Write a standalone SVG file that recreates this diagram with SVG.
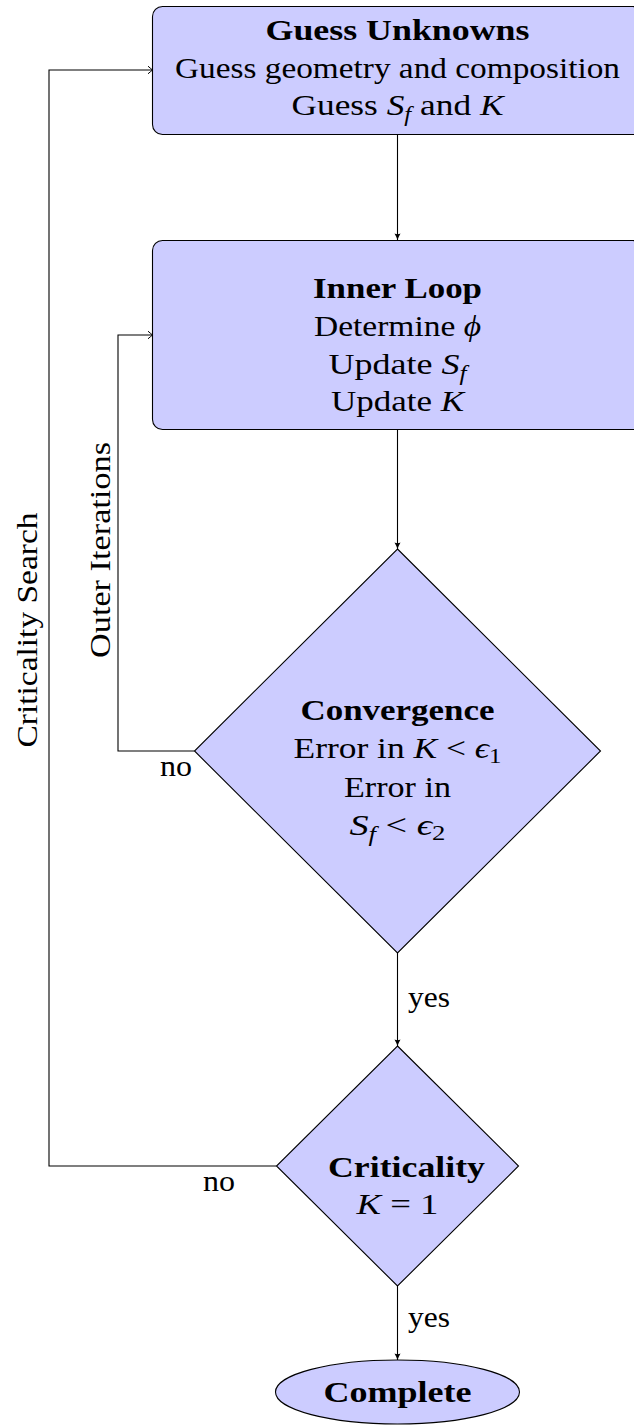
<svg xmlns="http://www.w3.org/2000/svg" width="634" height="1426" viewBox="0 0 634 1426">
<style>
.node{fill:#ccccff;stroke:#000;stroke-width:1.1}
.t{font-family:"Liberation Serif","Times New Roman",serif;font-size:30px;fill:#000;text-anchor:middle}
.l{font-family:"Liberation Serif","Times New Roman",serif;font-size:30px;fill:#000}
.b{font-weight:bold}
.m{font-style:italic}
.s{font-size:21px}
.c{fill:none;stroke:#000;stroke-width:1.1}
</style>
<defs>
<marker id="tip" markerUnits="userSpaceOnUse" viewBox="-7 -4 8 8" markerWidth="8" markerHeight="8" refX="0" refY="0" orient="auto">
<path d="M-6.5,-3 Q-3,-1 0,0 Q-3,1 -6.5,3 Q-5,0 -6.5,-3 Z" fill="#000"/>
</marker>
<marker id="to" markerUnits="userSpaceOnUse" viewBox="-7 -5 8 10" markerWidth="8" markerHeight="10" refX="0" refY="0" orient="auto">
<path d="M-4.5,-3.8 Q-1.2,-1 0,0 Q-1.2,1 -4.5,3.8" fill="none" stroke="#000" stroke-width="1"/>
</marker>
</defs>

<g id="connectors">
<path class="c" d="M397.5,134.5 V240" marker-end="url(#tip)"/>
<path class="c" d="M397.5,429.5 V549" marker-end="url(#tip)"/>
<path class="c" d="M397.5,953 V1046" marker-end="url(#tip)"/>
<path class="c" d="M397.5,1286 V1360" marker-end="url(#tip)"/>
<path class="c" d="M194.5,751 H118 V335 H152.5" marker-end="url(#to)"/>
<path class="c" d="M276.5,1166 H49 V70 H152.5" marker-end="url(#to)"/>
<text class="l" x="160" y="776" textLength="32" lengthAdjust="spacingAndGlyphs">no</text>
<text class="l" x="203" y="1191" textLength="32" lengthAdjust="spacingAndGlyphs">no</text>
<text class="l" x="408" y="1007" textLength="42" lengthAdjust="spacingAndGlyphs">yes</text>
<text class="l" x="408" y="1327" textLength="42" lengthAdjust="spacingAndGlyphs">yes</text>
<text class="t" transform="translate(110,550) rotate(-90)" textLength="216" lengthAdjust="spacingAndGlyphs">Outer Iterations</text>
<text class="t" transform="translate(37,630) rotate(-90)" textLength="235" lengthAdjust="spacingAndGlyphs">Criticality Search</text>
</g>

<g id="guess">
<rect class="node" x="152.5" y="6.5" width="490" height="128" rx="10"/>
<text class="t b" x="397.5" y="40" textLength="264" lengthAdjust="spacingAndGlyphs">Guess Unknowns</text>
<text class="t" x="397.5" y="78" textLength="445" lengthAdjust="spacingAndGlyphs">Guess geometry and composition</text>
<text class="t" x="397.5" y="115" textLength="212" lengthAdjust="spacingAndGlyphs">Guess <tspan class="m">S</tspan><tspan class="m s" dy="6">f</tspan><tspan dy="-6"> and </tspan><tspan class="m">K</tspan></text>
</g>

<g id="inner">
<rect class="node" x="152.5" y="240.5" width="490" height="189" rx="10"/>
<text class="t b" x="397.5" y="298" textLength="169" lengthAdjust="spacingAndGlyphs">Inner Loop</text>
<text class="t" x="397.5" y="336" textLength="167" lengthAdjust="spacingAndGlyphs">Determine <tspan class="m">ϕ</tspan></text>
<text class="t" x="397.5" y="374" textLength="138" lengthAdjust="spacingAndGlyphs">Update <tspan class="m">S</tspan><tspan class="m s" dy="6">f</tspan></text>
<text class="t" x="397.5" y="411" textLength="133" lengthAdjust="spacingAndGlyphs">Update <tspan class="m">K</tspan></text>
</g>

<g id="convergence">
<polygon class="node" points="397.5,549 600.5,751 397.5,953 194.5,751"/>
<text class="t b" x="397.5" y="720" textLength="194" lengthAdjust="spacingAndGlyphs">Convergence</text>
<text class="t" x="397.5" y="758" textLength="208" lengthAdjust="spacingAndGlyphs">Error in <tspan class="m">K</tspan> &lt; <tspan class="m">ϵ</tspan><tspan class="s" dy="5">1</tspan></text>
<text class="t" x="397.5" y="797" textLength="107" lengthAdjust="spacingAndGlyphs">Error in</text>
<text class="t" x="397.5" y="835" textLength="96" lengthAdjust="spacingAndGlyphs"><tspan class="m">S</tspan><tspan class="m s" dy="6">f</tspan><tspan dy="-6"> &lt; </tspan><tspan class="m">ϵ</tspan><tspan class="s" dy="5">2</tspan></text>
</g>

<g id="criticality">
<polygon class="node" points="397.5,1046 518.5,1166 397.5,1286 276.5,1166"/>
<text class="t b" x="406.5" y="1177" textLength="157" lengthAdjust="spacingAndGlyphs">Criticality</text>
<text class="t" x="397.5" y="1214" textLength="82" lengthAdjust="spacingAndGlyphs"><tspan class="m">K</tspan> = 1</text>
</g>

<g id="complete">
<ellipse class="node" cx="397.5" cy="1392" rx="122" ry="32"/>
<text class="t b" x="397.5" y="1402" textLength="148" lengthAdjust="spacingAndGlyphs">Complete</text>
</g>
</svg>
